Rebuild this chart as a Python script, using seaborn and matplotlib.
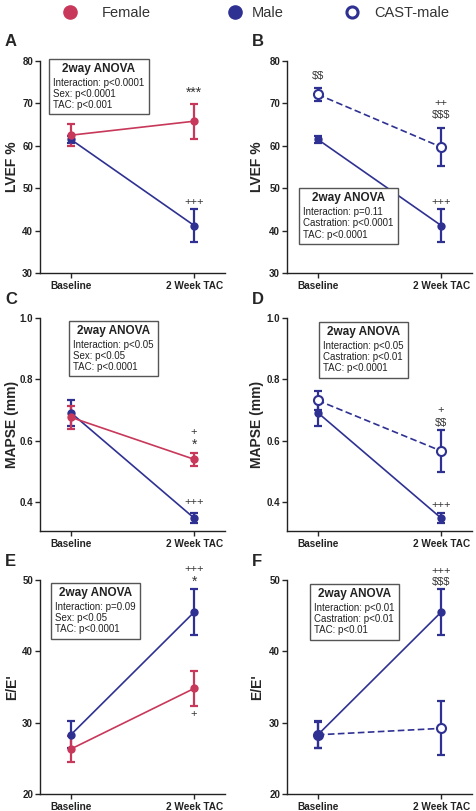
"""
LVEF, MAPSE and E/E' at baseline and after 2 weeks TAC:
female vs male (left) and male vs castrated male (right).
"""
import numpy as np
import pandas as pd
import matplotlib
matplotlib.use("Agg")
import matplotlib.pyplot as plt
import seaborn as sns
from matplotlib.lines import Line2D
from matplotlib.offsetbox import AnchoredOffsetbox, TextArea, VPacker

TIMEPOINTS = ["Baseline", "2 Week TAC"]

# mean and SEM, [baseline, 2 week TAC]
lvef_female = [62.5, 65.8]
lvef_female_sem = [2.6, 4.1]
lvef_male = [61.5, 41.2]
lvef_male_sem = [0.9, 3.9]
lvef_cast = [72.1, 59.7]
lvef_cast_sem = [1.5, 4.4]

mapse_female = [0.676, 0.539]
mapse_female_sem = [0.038, 0.021]
mapse_male = [0.691, 0.347]
mapse_male_sem = [0.043, 0.017]
mapse_cast = [0.731, 0.566]
mapse_cast_sem = [0.030, 0.068]

ee_female = [26.3, 34.8]
ee_female_sem = [1.8, 2.5]
ee_male = [28.3, 45.5]
ee_male_sem = [1.9, 3.2]
ee_cast = [28.3, 29.2]
ee_cast_sem = [1.8, 3.8]

# ANOVA summaries
anova_a = ["Interaction: p<0.0001", "Sex: p<0.0001", "TAC: p<0.001"]
anova_b = ["Interaction: p=0.11", "Castration: p<0.0001", "TAC: p<0.0001"]
anova_c = ["Interaction: p<0.05", "Sex: p<0.05", "TAC: p<0.0001"]
anova_d = ["Interaction: p<0.05", "Castration: p<0.01", "TAC: p<0.0001"]
anova_e = ["Interaction: p=0.09", "Sex: p<0.05", "TAC: p<0.0001"]
anova_f = ["Interaction: p<0.01", "Castration: p<0.01", "TAC: p<0.01"]

# significance marks: (timepoint index, y, text)
marks_a = [(1, 72.4, "***"), (1, 46.8, "+++")]
marks_b = [(0, 76.5, "$$"), (1, 70.0, "++"), (1, 67.2, "$$$"), (1, 46.7, "+++")]
marks_c = [(1, 0.629, "+"), (1, 0.585, "*"), (1, 0.400, "+++")]
marks_d = [(1, 0.701, "+"), (1, 0.659, "$$"), (1, 0.389, "+++")]
marks_e = [(1, 51.5, "+++"), (1, 49.7, "*"), (1, 31.2, "+")]
marks_f = [(1, 51.3, "+++"), (1, 49.7, "$$$")]

GROUPS = ["Female", "Male", "CAST-male"]

FEMALE = "#C8385A"
MALE = "#2E3192"
W, H = 477, 811

sns.set_style("ticks")
plt.rcParams["font.family"] = ["Liberation Sans", "DejaVu Sans"]


def _frame(name, mean, sem):
    return pd.DataFrame({"group": name, "time": TIMEPOINTS,
                         "pos": np.arange(len(TIMEPOINTS)),
                         "value": mean, "sem": sem})


def _series(ax, df, color, dashed=False, hollow=False):
    ax.errorbar(df["pos"], df["value"], yerr=df["sem"], fmt="none",
                ecolor=color, elinewidth=1.6, capsize=2.8, capthick=1.6,
                zorder=3)
    sns.lineplot(data=df, x="pos", y="value", ax=ax, color=color,
                 lw=1.2, linestyle=(0, (4, 2)) if dashed else "-",
                 marker="o", markersize=6.5 if hollow else 6,
                 markeredgewidth=1.5 if hollow else 0,
                 markerfacecolor="white" if hollow else color,
                 markeredgecolor=color, zorder=4, legend=False)


def _anova(ax, lines, x, y):
    title = TextArea("2way ANOVA", textprops=dict(fontsize=8.5, fontweight="bold",
                                                  color="#222222"))
    body = TextArea("\n".join(lines), textprops=dict(fontsize=7, color="#222222",
                                                     linespacing=1.15))
    box = VPacker(children=[title, body], align="center", pad=0, sep=2)
    anc = AnchoredOffsetbox(loc="upper left", child=box, pad=0.3, borderpad=0,
                            frameon=True, bbox_to_anchor=(x, y),
                            bbox_transform=ax.transAxes)
    anc.patch.set_edgecolor("#555555")
    anc.patch.set_linewidth(1.0)
    anc.patch.set_boxstyle("square", pad=0)
    anc.set_zorder(5)
    ax.add_artist(anc)


def _panel(rect, letter, ylabel, ylim, yticks, tickfmt, series, anova,
           anova_xy, marks, label_x):
    l, t, r, b = rect
    ax = fig.add_axes([l / W, 1 - b / H, (r - l) / W, (b - t) / H])
    for df, color, dashed, hollow in series:
        _series(ax, df, color, dashed, hollow)
    ax.set_xlim(-0.25, 1.25)
    ax.set_ylim(*ylim)
    ax.set_yticks(yticks)
    ax.set_yticklabels([tickfmt.format(v) for v in yticks])
    ax.set_xticks(range(len(TIMEPOINTS)))
    ax.set_xticklabels(TIMEPOINTS)
    ax.set_xlabel("")
    ax.set_ylabel(ylabel, fontsize=10, fontweight="bold")
    ax.yaxis.set_label_coords(label_x, 0.5)
    ax.tick_params(axis="y", labelsize=7, length=3.5, width=1, pad=1.5)
    ax.tick_params(axis="x", labelsize=7.2, length=3.5, width=1, pad=2)
    for lab in ax.get_xticklabels() + ax.get_yticklabels():
        lab.set_fontweight("bold")
        lab.set_color("#222222")
    for s in ["left", "bottom"]:
        ax.spines[s].set_linewidth(1.0)
        ax.spines[s].set_color("#222222")
    sns.despine(ax=ax)
    for i, y, txt in marks:
        ax.text(i, y, txt, ha="center", va="center",
                fontsize=10 if "*" in txt else 8,
                color="#333333", parse_math=False)
    _anova(ax, anova, *anova_xy)
    fig.text((l - 35) / W, 1 - (t - 19) / H, letter, fontsize=12,
             fontweight="bold", ha="left", va="center")
    return ax


fig = plt.figure(figsize=(W / 100, H / 100), dpi=100)

left_x = (40, 225)
right_x = (287, 472)
rows = [(61, 273), (318, 531), (580, 794)]

fem_lvef = _frame("Female", lvef_female, lvef_female_sem)
male_lvef = _frame("Male", lvef_male, lvef_male_sem)
cast_lvef = _frame("CAST-male", lvef_cast, lvef_cast_sem)
fem_mapse = _frame("Female", mapse_female, mapse_female_sem)
male_mapse = _frame("Male", mapse_male, mapse_male_sem)
cast_mapse = _frame("CAST-male", mapse_cast, mapse_cast_sem)
fem_ee = _frame("Female", ee_female, ee_female_sem)
male_ee = _frame("Male", ee_male, ee_male_sem)
cast_ee = _frame("CAST-male", ee_cast, ee_cast_sem)

LX, RX = -0.114, -0.124

_panel((left_x[0], rows[0][0], left_x[1], rows[0][1]), "A", "LVEF %",
       (30, 80), [30, 40, 50, 60, 70, 80], "{:g}",
       [(male_lvef, MALE, False, False), (fem_lvef, FEMALE, False, False)],
       anova_a, (0.05, 1.01), marks_a, LX)
_panel((right_x[0], rows[0][0], right_x[1], rows[0][1]), "B", "LVEF %",
       (30, 80), [30, 40, 50, 60, 70, 80], "{:g}",
       [(cast_lvef, MALE, True, True), (male_lvef, MALE, False, False)],
       anova_b, (0.065, 0.40), marks_b, RX)
_panel((left_x[0], rows[1][0], left_x[1], rows[1][1]), "C", "MAPSE (mm)",
       (0.305, 1.0), [0.4, 0.6, 0.8, 1.0], "{:.1f}",
       [(male_mapse, MALE, False, False), (fem_mapse, FEMALE, False, False)],
       anova_c, (0.157, 0.986), marks_c, LX)
_panel((right_x[0], rows[1][0], right_x[1], rows[1][1]), "D", "MAPSE (mm)",
       (0.305, 1.0), [0.4, 0.6, 0.8, 1.0], "{:.1f}",
       [(cast_mapse, MALE, True, True), (male_mapse, MALE, False, False)],
       anova_d, (0.173, 0.981), marks_d, RX)
_panel((left_x[0], rows[2][0], left_x[1], rows[2][1]), "E", "E/E'",
       (20, 50), [20, 30, 40, 50], "{:g}",
       [(male_ee, MALE, False, False), (fem_ee, FEMALE, False, False)],
       anova_e, (0.06, 0.986), marks_e, LX)
_panel((right_x[0], rows[2][0], right_x[1], rows[2][1]), "F", "E/E'",
       (20, 50), [20, 30, 40, 50], "{:g}",
       [(cast_ee, MALE, True, True), (male_ee, MALE, False, False)],
       anova_f, (0.124, 0.981), marks_f, RX)

# legend: one small legend per group so each sits where it does in the figure
handles = [
    Line2D([], [], ls="", marker="o", markersize=9.5, color=FEMALE, mec=FEMALE),
    Line2D([], [], ls="", marker="o", markersize=9.5, color=MALE, mec=MALE),
    Line2D([], [], ls="", marker="o", markersize=8, mfc="white", mec=MALE,
           mew=2.2),
]
FS = 10.5
fs_px = FS * 100 / 72
marker_x = [70, 235, 352]
text_gap = [32, 17, 22]
for h, name, mx, gap in zip(handles, GROUPS, marker_x, text_gap):
    leg = fig.legend([h], [name], loc="center left",
                     bbox_to_anchor=((mx - fs_px / 2) / W, 1 - 13 / H),
                     frameon=False, fontsize=FS, handlelength=1.0,
                     handletextpad=(gap - fs_px / 2) / fs_px,
                     borderpad=0, borderaxespad=0)
    for t in leg.get_texts():
        t.set_color("#333333")

fig.savefig("out.png", dpi=100)
